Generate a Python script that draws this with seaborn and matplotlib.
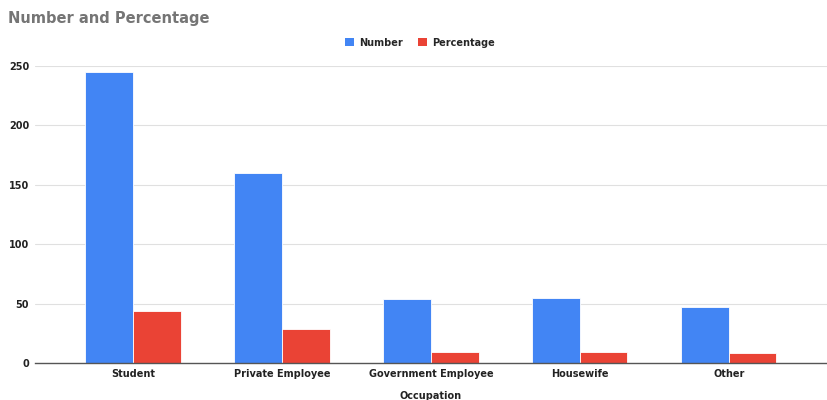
import matplotlib
matplotlib.use("Agg")
import matplotlib.pyplot as plt
import seaborn as sns
import pandas as pd
from matplotlib.patches import Patch

categories = ["Student", "Private Employee", "Government Employee", "Housewife", "Other"]
number = [245, 160, 54, 55, 47]
percentage = [43.7, 28.5, 9.6, 9.8, 8.4]
series_names = ["Number", "Percentage"]
colors = ["#4285F4", "#EA4335"]

df = pd.DataFrame({
    "Occupation": categories * 2,
    "Value": number + percentage,
    "Series": [series_names[0]] * len(categories) + [series_names[1]] * len(categories),
})

sns.set_theme(style="white")
plt.rcParams['font.family'] = ['DejaVu Sans']

fig = plt.figure(figsize=(8.27, 4.0), dpi=100)
ax = fig.add_axes([0.042, 0.092, 0.958, 0.743])

sns.barplot(data=df, x="Occupation", y="Value", hue="Series", order=categories,
            hue_order=series_names, palette=colors, width=0.64, gap=0.0,
            saturation=1, ax=ax, legend=False, edgecolor="white", linewidth=0.6)

ax.set_ylim(0, 250)
ax.set_xlim(-0.66, 4.66)
ax.set_yticks([0, 50, 100, 150, 200, 250])
ax.yaxis.grid(True, color="#e0e0e0", linewidth=0.8)
ax.set_axisbelow(True)
for s in ["top", "right", "left"]:
    ax.spines[s].set_visible(False)
ax.spines["bottom"].set_color("#555555")
ax.spines["bottom"].set_linewidth(1.0)
ax.tick_params(axis="x", length=0, pad=4)
ax.tick_params(axis="y", length=0, pad=4)
for lab in ax.get_xticklabels() + ax.get_yticklabels():
    lab.set_fontsize(7)
    lab.set_fontweight("bold")
    lab.set_color("#222222")
ax.set_ylabel("")
ax.set_xlabel("Occupation", fontsize=7, fontweight="bold", color="#222222", labelpad=9)

fig.text(0.01, 0.955, "Number and Percentage", fontsize=10.5, fontweight="bold",
         color="#757575", ha="left", va="center")

handles = [Patch(facecolor=c, edgecolor="none") for c in colors]
fig.legend(handles, series_names, loc="center", bbox_to_anchor=(0.508, 0.893), ncol=2,
           frameon=False, prop={"size": 7, "weight": "bold"}, handlelength=0.9,
           handleheight=0.9, columnspacing=1.5, handletextpad=0.6)

fig.savefig("out.png", dpi=100)
